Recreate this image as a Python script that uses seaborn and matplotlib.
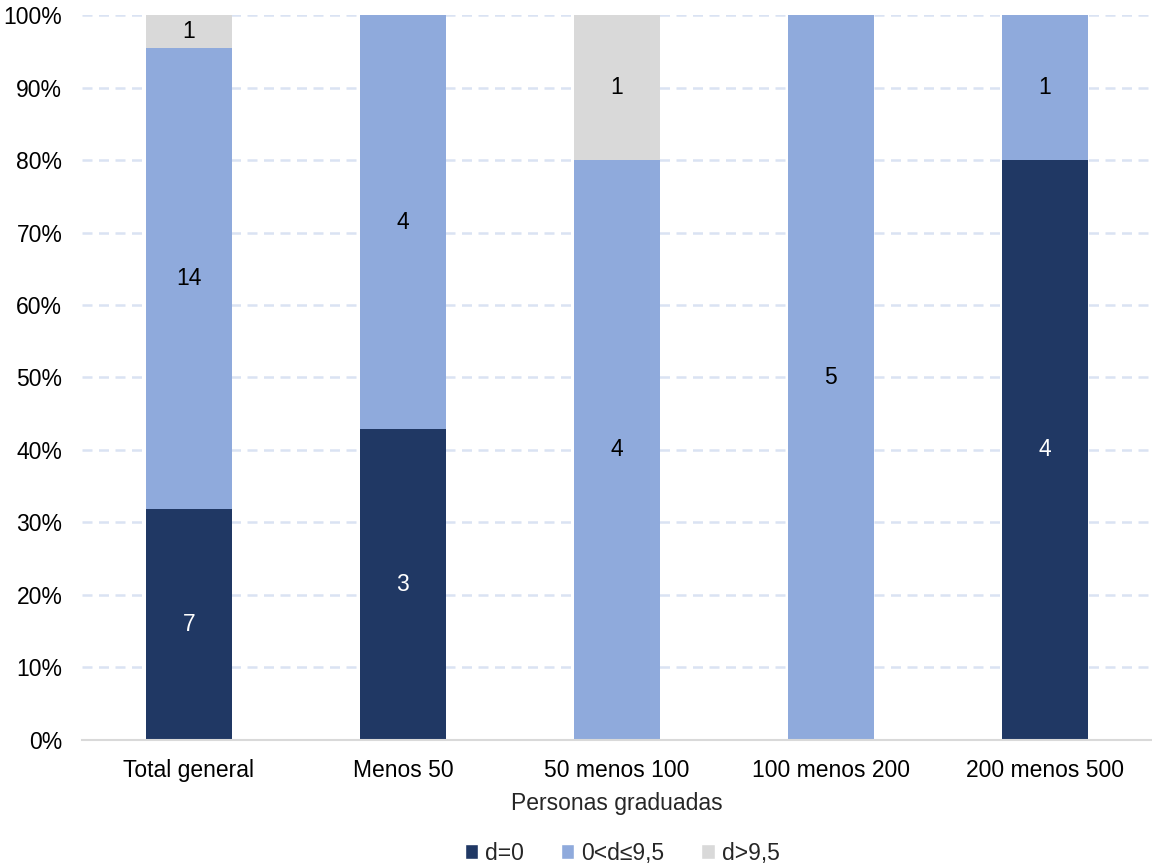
import numpy as np
import pandas as pd
import seaborn as sns
import matplotlib.pyplot as plt
from matplotlib.patches import Patch
from matplotlib.ticker import PercentFormatter

# Datos (conteos por categoría)
categorias = ["Total general", "Menos 50", "50 menos 100", "100 menos 200", "200 menos 500"]
d_cero = [7, 3, 0, 0, 4]
d_medio = [14, 4, 4, 5, 1]
d_alto = [1, 0, 1, 0, 0]
series = ["d=0", "0<d≤9,5", "d>9,5"]
colores = ["#203864", "#8FAADC", "#D9D9D9"]

sns.set_theme(style="white")
plt.rcParams["font.family"] = ["Liberation Sans", "DejaVu Sans"]

conteos = np.array([d_cero, d_medio, d_alto], dtype=float)
totales = conteos.sum(axis=0)
pct = conteos / totales * 100
acum = pct.cumsum(axis=0)

fig = plt.figure(figsize=(11.52, 8.68), dpi=100)
ax = fig.add_axes([0.071, 0.1475, 0.929, 0.8352])

# Barras apiladas: se dibujan de la capa superior a la inferior
for i in [2, 1, 0]:
    df = pd.DataFrame({"cat": categorias, "val": acum[i]})
    sns.barplot(data=df, x="cat", y="val", color=colores[i], width=0.4,
                saturation=1, linewidth=0, edgecolor="none", ax=ax, zorder=2)

# Etiquetas de valores
for j in range(len(categorias)):
    base = 0
    for i in range(3):
        if conteos[i, j] > 0:
            ax.text(j, base + pct[i, j] / 2, f"{int(conteos[i, j])}",
                    ha="center", va="center", fontsize=16.5,
                    color="white" if i == 0 else "black", zorder=3)
        base += pct[i, j]

ax.set_ylim(0, 100)
ax.set_xlim(-0.5, 4.5)
ax.set_yticks(np.arange(0, 101, 10))
ax.yaxis.set_major_formatter(PercentFormatter(decimals=0))
for y in range(10, 101, 10):
    ax.axhline(y, color="#DAE3F3", linestyle=(0, (4, 2.6)), linewidth=1.8, zorder=1)
for s in ["left", "right", "top"]:
    ax.spines[s].set_visible(False)
ax.spines["bottom"].set_color("#D9D9D9")
ax.spines["bottom"].set_linewidth(1.5)
ax.tick_params(axis="y", length=0, labelsize=16.5, colors="black", pad=14)
ax.tick_params(axis="x", length=0, labelsize=16.5, colors="black", pad=14)
ax.set_xlabel("Personas graduadas", fontsize=16.5, labelpad=7)
ax.set_ylabel("")

handles = [Patch(facecolor=c, label=s) for c, s in zip(colores, series)]
fig.legend(handles=handles, loc="lower center", ncol=3, frameon=False,
           fontsize=16.5, bbox_to_anchor=(0.54, -0.02), handlelength=0.6,
           handleheight=0.6, handletextpad=0.3, columnspacing=1.6)

fig.savefig("out.png", dpi=100)
